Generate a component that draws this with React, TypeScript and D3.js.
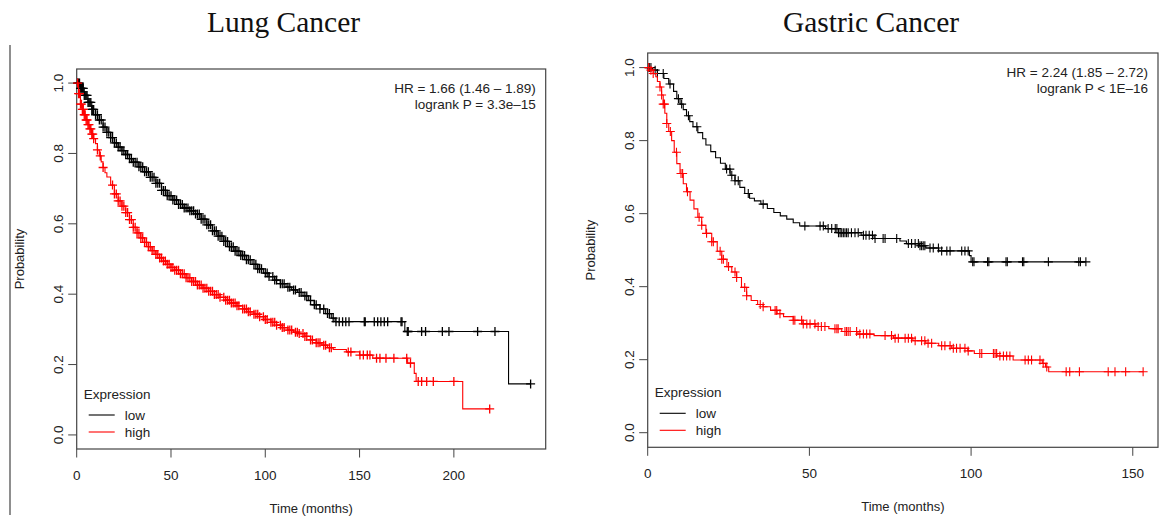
import * as d3 from 'd3';

// ---- Lung cancer (Kaplan-Meier step knots) ----
const lungLowTime = [0, 2, 4, 6, 8, 10, 12, 14, 16, 18, 20, 22, 24, 26, 28, 30, 33, 36, 39, 42, 45, 48, 51, 54, 57, 60, 63, 66, 69, 72, 75, 78, 81, 84, 87, 90, 93, 96, 99, 102, 105, 108, 111, 114, 117, 120, 123, 126, 129, 132, 135, 137, 174, 229, 240.7];
const lungLowSurv = [1, 0.985, 0.965, 0.945, 0.925, 0.91, 0.895, 0.875, 0.86, 0.845, 0.83, 0.818, 0.808, 0.797, 0.785, 0.775, 0.762, 0.748, 0.732, 0.715, 0.695, 0.68, 0.668, 0.655, 0.645, 0.637, 0.628, 0.613, 0.597, 0.58, 0.565, 0.55, 0.535, 0.522, 0.51, 0.498, 0.485, 0.472, 0.46, 0.45, 0.44, 0.43, 0.42, 0.412, 0.405, 0.395, 0.382, 0.37, 0.358, 0.345, 0.332, 0.322, 0.294, 0.145, 0.145];
const lungLowCens = [0.5, 1, 1.5, 2, 2.5, 3, 3.5, 4, 4.5, 5, 5.5, 6, 6.5, 7, 7.5, 8, 8.5, 9, 10, 11, 12, 13, 14, 15, 16, 17, 18, 19, 20, 21, 22, 23, 24, 25, 26, 27, 28, 29, 30, 31, 32, 33, 34, 35, 36, 37, 38, 39, 40, 41, 42, 43, 44, 45, 46, 47, 48, 49, 50, 51, 52, 53, 54, 55, 56, 57, 58, 59, 60, 61, 62, 63, 64, 65, 66, 67, 68, 69, 70, 71, 72, 73, 74, 75, 76, 77, 78, 79, 80, 81, 82, 83, 84, 85, 86, 87, 88, 89, 90, 91, 92, 94, 95, 96, 97, 98, 100, 101, 102, 104, 105, 106, 108, 109, 110, 112, 113, 115, 116, 118, 119, 121, 122, 124, 126, 127, 129, 131, 133, 134, 136, 137.5, 139.2, 141, 142.7, 144.4, 152.5, 153, 157.8, 159.6, 161.3, 163.1, 164.9, 172, 172.5, 175.3, 175.8, 182.9, 185, 193.9, 197.4, 212.6, 221.8, 240.7];

const lungHighTime = [0, 1, 2, 3, 4, 5, 6, 7, 8, 9, 10, 11, 12, 13, 14, 15, 16, 18, 20, 22, 24, 26, 28, 30, 32, 34, 36, 38, 40, 42, 44, 46, 48, 50, 52, 55, 58, 61, 64, 67, 70, 73, 76, 79, 82, 85, 88, 91, 94, 97, 100, 103, 106, 109, 112, 115, 118, 121, 124, 127, 130, 133, 136, 143, 150, 157, 175.5, 179, 180, 204.7, 219];
const lungHighSurv = [1, 0.97, 0.94, 0.925, 0.91, 0.895, 0.882, 0.87, 0.855, 0.842, 0.828, 0.81, 0.793, 0.776, 0.76, 0.745, 0.733, 0.71, 0.685, 0.665, 0.65, 0.632, 0.612, 0.59, 0.574, 0.56, 0.547, 0.535, 0.524, 0.513, 0.503, 0.494, 0.485, 0.476, 0.468, 0.458, 0.447, 0.436, 0.426, 0.417, 0.408, 0.399, 0.391, 0.383, 0.375, 0.367, 0.358, 0.35, 0.343, 0.336, 0.328, 0.32, 0.312, 0.305, 0.298, 0.292, 0.288, 0.28, 0.27, 0.262, 0.255, 0.248, 0.243, 0.236, 0.227, 0.218, 0.204, 0.175, 0.152, 0.074, 0.074];
const lungHighCens = [0.5, 1, 1.5, 2, 2.5, 3, 3.5, 4, 4.5, 5, 5.5, 6, 6.5, 7, 7.5, 8, 8.5, 9, 11, 12.5, 14, 19, 20, 21, 22, 23, 24, 25, 26, 27, 28, 29, 30, 31, 32, 33, 34, 35, 36, 37, 38, 39, 40, 41, 42, 43, 44, 45, 46, 47, 48, 49, 50, 51, 52, 53, 54, 55, 56, 57, 58, 59, 60, 61, 62, 63, 64, 65, 66, 67, 68, 69, 70, 71, 72, 73, 74, 75, 76, 78, 79, 80, 81, 82, 83, 84, 85, 86, 88, 89, 90, 91, 92, 94, 95, 96, 97, 99, 100, 101, 103, 104, 105, 106, 108, 109, 110, 112, 113, 114, 116, 117, 118, 120, 121, 122, 124, 125, 127, 128, 129, 131, 132, 134, 135, 144, 145.4, 150.2, 152, 154.1, 155.5, 159, 160.8, 164, 168.2, 175, 177, 181.1, 182.9, 185.6, 189.1, 200, 219];

// ---- Gastric cancer ----
const gastricLowTime = [0, 1.5, 3, 5, 6.5, 8, 9, 10, 11, 12, 13, 14, 15.5, 17, 18, 19.5, 21, 22.5, 24, 25.5, 27, 28.5, 30, 31.5, 33, 35, 37, 39, 41, 43, 45, 47, 55, 59, 66, 70, 78, 80, 84, 86, 90, 99.5, 100, 135.5];
const gastricLowSurv = [1, 0.993, 0.984, 0.97, 0.955, 0.935, 0.915, 0.9, 0.885, 0.868, 0.852, 0.838, 0.822, 0.805, 0.788, 0.77, 0.753, 0.738, 0.722, 0.705, 0.69, 0.672, 0.655, 0.642, 0.635, 0.626, 0.614, 0.603, 0.594, 0.585, 0.575, 0.566, 0.559, 0.548, 0.541, 0.532, 0.525, 0.518, 0.512, 0.506, 0.498, 0.485, 0.468, 0.468];
const gastricLowCens = [0.5, 1, 2.3, 3, 4.8, 6.9, 9.5, 10.5, 12.6, 15.2, 24.4, 25.4, 26, 27, 28, 31.1, 35.7, 48.6, 53.3, 54.3, 55.8, 56.9, 58, 58.5, 59, 59.5, 60, 60.5, 61, 61.5, 62, 63, 64.1, 65.1, 66.7, 67.5, 68.5, 69.5, 70.3, 72.8, 73.4, 77, 80.6, 81.6, 82.7, 83.7, 84.2, 84.7, 85.2, 85.7, 87.3, 88.3, 89.9, 90.9, 92.5, 93.5, 97.1, 98.1, 99.1, 100.5, 100.9, 105.1, 105.5, 110.8, 111.2, 115.9, 116.3, 123.9, 133.3, 133.8, 135.5];

const gastricHighTime = [0, 1, 1.7, 2.5, 3, 3.8, 4.3, 4.8, 5.3, 5.9, 6.5, 7.4, 8.2, 9, 10, 11, 12, 13.1, 14.3, 15.5, 16.7, 18, 19.8, 21.5, 22.9, 24.5, 26, 27.5, 29, 30.6, 32, 34, 35.7, 38, 40, 42, 45, 48, 52, 56, 60, 65, 70, 76, 82, 86, 90, 94, 99, 101, 108, 113, 122, 123, 124, 153.2];
const gastricHighSurv = [1, 0.993, 0.984, 0.975, 0.962, 0.947, 0.925, 0.9, 0.875, 0.847, 0.825, 0.8, 0.768, 0.737, 0.71, 0.682, 0.66, 0.637, 0.613, 0.59, 0.568, 0.546, 0.523, 0.497, 0.475, 0.455, 0.44, 0.425, 0.398, 0.375, 0.362, 0.351, 0.345, 0.335, 0.326, 0.318, 0.308, 0.298, 0.291, 0.285, 0.277, 0.27, 0.266, 0.259, 0.252, 0.245, 0.238, 0.231, 0.224, 0.217, 0.21, 0.199, 0.19, 0.18, 0.167, 0.167];
const gastricHighCens = [0.3, 1, 1.7, 3.8, 4.3, 4.8, 5.2, 5.9, 7, 8.9, 10.3, 10.8, 12.3, 15.9, 16.7, 18.2, 19.8, 20.3, 22.4, 22.9, 23.4, 25, 27, 27.5, 30, 30.6, 34.8, 35.7, 39.4, 39.9, 40.9, 45, 45.5, 47.6, 48.1, 49.2, 50.2, 51.7, 52.7, 53.7, 54.8, 57.9, 58.5, 58.9, 61, 61.5, 62, 62.6, 64.6, 65.6, 66.7, 67.7, 68.7, 73.4, 75.4, 76.5, 77.5, 79.6, 80.6, 81.6, 82.7, 84.7, 85.7, 86.7, 87.8, 90.9, 91.9, 93.5, 94.5, 95.5, 96.6, 98.1, 99.1, 102.7, 103.3, 106.9, 107.4, 107.9, 108.9, 110, 111, 112, 116.7, 117.7, 118.7, 121.3, 122.3, 123.4, 129.4, 130.5, 133.5, 142.4, 144.5, 147.8, 153.2];

const yTicks = [0, 0.2, 0.4, 0.6, 0.8, 1.0];
const lungXTicks = [0, 50, 100, 150, 200];
const gastricXTicks = [0, 50, 100, 150];
const legendLabels = ['low', 'high'];
const seriesColors = ['#000000', '#ff0000'];

const SANS = '"Liberation Sans", Arial, sans-serif';
const SERIF = '"Liberation Serif", "Times New Roman", serif';

type Series = { time: number[]; surv: number[]; cens: number[]; color: string };

function Panel({ title, titleX, box, xMax, xTicks, series, hr, logrank, markWidth }: {
  title: string;
  titleX: number;
  box: { left: number; top: number; right: number; bottom: number };
  xMax: number;
  xTicks: number[];
  series: Series[];
  hr: string;
  logrank: string;
  markWidth: number;
}) {
  const x = d3.scaleLinear().domain([0, xMax]).range([box.left, box.right]);
  const y = d3.scaleLinear().domain([-0.04, 1.04]).range([box.bottom, box.top]);
  const cx = (box.left + box.right) / 2;
  const cy = (box.top + box.bottom) / 2;

  return (
    <g>
      <text x={titleX} y={32} textAnchor="middle" fontFamily={SERIF} fontSize={29.5} fill="#111">{title}</text>
      <rect x={box.left} y={box.top} width={box.right - box.left} height={box.bottom - box.top} fill="none" stroke="#444" strokeWidth={1.2} />
      {yTicks.map((t) => (
        <g key={'y' + t}>
          <line x1={box.left - 8.5} x2={box.left} y1={y(t)} y2={y(t)} stroke="#444" />
          <text transform={`translate(${box.left - 19},${y(t)}) rotate(-90)`} textAnchor="middle" dy="0.36em" fontFamily={SANS} fontSize={13.5} fill="#222">{t.toFixed(1)}</text>
        </g>
      ))}
      {xTicks.map((t) => (
        <g key={'x' + t}>
          <line x1={x(t)} x2={x(t)} y1={box.bottom} y2={box.bottom + 8.5} stroke="#444" />
          <text x={x(t)} y={box.bottom + 26} textAnchor="middle" dy="0.36em" fontFamily={SANS} fontSize={13.5} fill="#222">{t}</text>
        </g>
      ))}
      <text transform={`translate(${box.left - 57},${cy}) rotate(-90)`} textAnchor="middle" dy="0.36em" fontFamily={SANS} fontSize={13} fill="#222">Probability</text>
      <text x={cx} y={box.bottom + 59} textAnchor="middle" dy="0.36em" fontFamily={SANS} fontSize={13} fill="#222">Time (months)</text>

      {series.map((s, i) => {
        const line = d3.line<number>().x((d) => x(d)).y((_, k) => y(s.surv[k])).curve(d3.curveStepAfter);
        const survAt = (t: number) => s.surv[Math.max(0, d3.bisectRight(s.time, t) - 1)];
        return (
          <g key={'s' + i}>
            <path d={line(s.time) ?? ''} fill="none" stroke={s.color} strokeWidth={1.1} />
            {s.cens.map((t, j) => {
              const px = x(t);
              const py = y(survAt(t));
              return <path key={j} d={`M${px - 4.5},${py}H${px + 4.5}M${px},${py - 4.5}V${py + 4.5}`} stroke={s.color} strokeWidth={markWidth} />;
            })}
          </g>
        );
      })}

      <text x={box.right - 10} y={box.top + 19} dy="0.36em" textAnchor="end" fontFamily={SANS} fontSize={13.5} fill="#222">{hr}</text>
      <text x={box.right - 10} y={box.top + 35.5} dy="0.36em" textAnchor="end" fontFamily={SANS} fontSize={13.5} fill="#222">{logrank}</text>

      <text x={box.left + 7} y={box.bottom - 55} dy="0.36em" fontFamily={SANS} fontSize={13.5} fill="#222">Expression</text>
      {legendLabels.map((lab, i) => (
        <g key={lab}>
          <line x1={box.left + 12} x2={box.left + 38} y1={box.bottom - 34 + i * 17} y2={box.bottom - 34 + i * 17} stroke={seriesColors[i]} strokeWidth={1.1} />
          <text x={box.left + 48} y={box.bottom - 34 + i * 17} dy="0.36em" fontFamily={SANS} fontSize={13.5} fill="#222">{lab}</text>
        </g>
      ))}
    </g>
  );
}

export default function App() {
  return (
    <svg width={1159} height={520} style={{ position: 'absolute', left: 0, top: 0, background: '#fff' }}>
      <rect x={0} y={0} width={1159} height={520} fill="#fff" />
      <line x1={10} x2={10} y1={45} y2={515} stroke="#444" strokeWidth={1.2} />
      <Panel
        title="Lung Cancer"
        titleX={283.5}
        box={{ left: 76.7, top: 69, right: 545.7, bottom: 449 }}
        xMax={248.7}
        xTicks={lungXTicks}
        series={[
          { time: lungLowTime, surv: lungLowSurv, cens: lungLowCens, color: seriesColors[0] },
          { time: lungHighTime, surv: lungHighSurv, cens: lungHighCens, color: seriesColors[1] },
        ]}
        hr="HR = 1.66 (1.46 – 1.89)"
        logrank="logrank P = 3.3e–15"
        markWidth={1.3}
      />
      <Panel
        title="Gastric Cancer"
        titleX={871}
        box={{ left: 647.7, top: 53, right: 1158, bottom: 447.3 }}
        xMax={157.8}
        xTicks={gastricXTicks}
        series={[
          { time: gastricLowTime, surv: gastricLowSurv, cens: gastricLowCens, color: seriesColors[0] },
          { time: gastricHighTime, surv: gastricHighSurv, cens: gastricHighCens, color: seriesColors[1] },
        ]}
        hr="HR = 2.24 (1.85 – 2.72)"
        logrank="logrank P < 1E–16"
        markWidth={1.1}
      />
    </svg>
  );
}
